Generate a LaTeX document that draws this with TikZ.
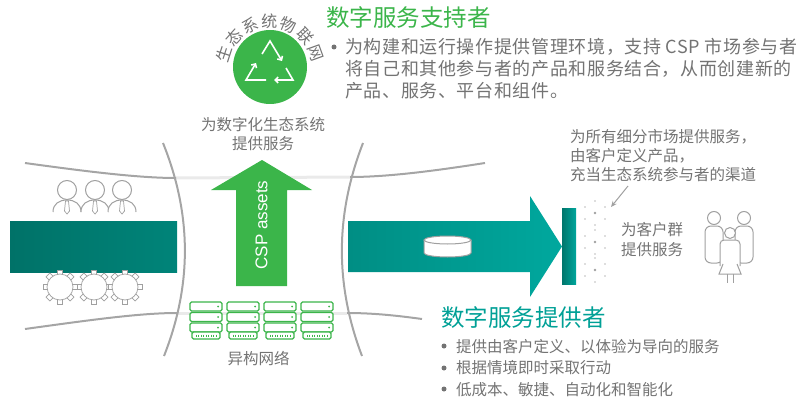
\documentclass[tikz,border=0pt]{standalone}
\usepackage{fontspec}
\setmainfont{Noto Sans CJK SC}
\newfontfamily\arialfont{Liberation Sans}
\usepackage{tikz}
\usetikzlibrary{positioning,arrows.meta}
\definecolor{iot-green}{RGB}{59,181,74}
\definecolor{sp-teal}{RGB}{0,160,150}
\definecolor{text-gray}{RGB}{115,115,115}
\definecolor{line-gray}{RGB}{165,165,165}
\definecolor{faint-gray}{RGB}{234,234,234}
\definecolor{icon-gray}{RGB}{160,160,160}
\tikzset{
    soft-text/.style = {text=text-gray, inner sep=0pt, font=\fontsize{15.5}{19}\selectfont},
    body-text/.style = {text=text-gray, inner sep=0pt, align=left, font=\fontsize{18}{22}\selectfont\addfontfeatures{LetterSpace=3.5}},
    title-text/.style = {inner sep=0pt, font=\fontsize{23.5}{28}\selectfont},
    bullet-dot/.style = {circle, fill=text-gray, inner sep=0pt, minimum size=5pt},
    icon-line/.style = {draw=icon-gray, line width=1pt},
    tube-line/.style = {draw=line-gray, line width=2pt},
    tube-faint/.style = {draw=faint-gray, line width=3pt},
    server-unit/.style = {draw=iot-green, line width=1.2pt, rounded corners=1.5pt, fill=white},
}

\begin{document}
\begin{tikzpicture}[x=1pt, y=-1pt]
\useasboundingbox (0,0) rectangle (799,401);

% tube outline
\draw[tube-faint] (176,178) -- (350,177);
\draw[tube-faint] (177,313) -- (347,313);
\draw[tube-line] (25,163) .. controls (90,172) and (140,178) .. (176,178);
\draw[tube-line] (350,177) .. controls (390,177) and (440,170) .. (485,163);
\draw[tube-line] (25,329) .. controls (90,320) and (140,313) .. (177,313);
\draw[tube-line] (347,313) .. controls (375,313) and (400,316) .. (422,319);
\draw[tube-line] (163,143) .. controls (192,215) and (192,285) .. (164,356);
\draw[tube-line] (363,143) .. controls (335,215) and (335,285) .. (362,356);

% left band and right arrow
\shade[left color={rgb,255:red,0;green,114;blue,104}, right color={rgb,255:red,0;green,132;blue,121}] (10,221) rectangle (177,272);
\shade[left color={rgb,255:red,0;green,142;blue,132}, right color={rgb,255:red,0;green,168;blue,158}]
    (348,221) -- (530,221) -- (530,196) -- (562,246.5) -- (530,297) -- (530,272) -- (348,272) -- cycle;
\shade[left color={rgb,255:red,0;green,118;blue,108}, right color={rgb,255:red,0;green,166;blue,156}] (562,208) rectangle (576,284);

% database
\filldraw[fill=white, draw=icon-gray, line width=1pt] (424,240) -- (424,253) arc[start angle=180, end angle=0, x radius=23.5, y radius=4] -- (471,240);
\filldraw[fill=white, draw=icon-gray, line width=1pt] (447.5,240) ellipse [x radius=23.5, y radius=4];

% people with ties
\foreach \px in {67,95,122}{
    \draw[icon-line, fill=white] (\px-14,212) .. controls (\px-14,204) and (\px-8,200) .. (\px,200) .. controls (\px+8,200) and (\px+14,204) .. (\px+14,212);
    \draw[icon-line, fill=white] (\px,190) circle (9.5);
    \draw[icon-line, line width=0.7pt] (\px-1.5,201) -- (\px+1.5,201) -- (\px+2.5,211) -- (\px,214) -- (\px-2.5,211) -- cycle;
}

% gears
\foreach \gx in {60,94,125}{
    \foreach \a in {0,45,...,315}
        \draw[icon-line, line width=0.7pt, fill=white, shift={(\gx,287)}, rotate=\a] (12,-2.8) -- (17,-2.8) -- (17,2.8) -- (12,2.8);
    \draw[icon-line, line width=0.7pt, fill=white] (\gx,287) circle (13);
}

% CSP assets arrow
\fill[iot-green] (236,286) -- (236,190) -- (211,190) -- (262,160) -- (312,190) -- (287,190) -- (287,286) -- cycle;
\node[rotate=90, text=white, inner sep=0pt, font=\arialfont\fontsize{17}{20}\selectfont] (csp-label) at (261.5,225) {CSP assets};

% servers
\foreach \sx in {190,227,264,301}{
    \foreach \sy in {302,312.5,323}{
        \draw[server-unit] (\sx,\sy) rectangle ++(32,9);
        \fill[iot-green] (\sx+28,\sy+4.5) circle (1);
    }
    \draw[server-unit] (\sx+2,332) rectangle ++(28,7);
    \foreach \k in {0,...,8}
        \draw[iot-green, line width=0.6pt] (\sx+6+\k*2.5,334.5) -- ++(0,2.5);
}

% ecosystem hub
\node[circle, fill=iot-green, minimum size=74pt, inner sep=0pt] (hub) at (270,67) {};
\draw[white, line width=1.6pt, -{Straight Barb[length=3pt, width=6pt]}] (262,54) -- (270,41) -- (282,61);
\draw[white, line width=1.6pt, -{Straight Barb[length=3pt, width=6pt]}] (286,68) -- (293,80) -- (274,80);
\draw[white, line width=1.6pt, -{Straight Barb[length=3pt, width=6pt]}] (266,80) -- (246,80) -- (256,63);
\foreach \ch [count=\i, evaluate=\i as \ang using 162-23.7*(\i-1)] in {生,态,系,统,物,联,网}
    \node[soft-text, font=\fontsize{16}{19}\selectfont, rotate=\ang-90] (ring-\i) at ([shift={(270,69)}] -\ang:48) {\ch};

% labels
\node[soft-text, align=center, anchor=north] (hub-label) at (263,117) {为数字化生态系统\\提供服务};
\node[soft-text, anchor=north] (net-label) at (258.5,351) {异构网络};
\node[soft-text, align=left, anchor=north west] (seg-label) at (570,129) {为所有细分市场提供服务，\\由客户定义产品，\\充当生态系统参与者的渠道};
\node[soft-text, align=left, anchor=north west, font=\fontsize{15.5}{20}\selectfont] (group-label) at (621,222) {为客户群\\提供服务};

% dotted channel
\foreach \cy in {213,242,270}{
    \foreach \dx/\dy in {-10/-6,10/-6,-10/6,10/6,0/-12,0/12}
        \fill[icon-gray!70] (595+\dx,\cy+\dy) circle (0.9);
    \fill[icon-gray] (595,\cy) circle (1.4);
}
\coordinate (seg-end) at (628,186);
\coordinate (dots-tip) at (611,207);
\draw[icon-gray, line width=1pt, -{Stealth[length=6pt, width=5pt]}] (seg-end) -- (dots-tip);

% customer group
\draw[icon-line, fill=white, rounded corners=6pt] (705,263) -- (705,226) -- (723,226) -- (723,263) -- cycle;
\draw[icon-line, fill=white, rounded corners=6pt] (735,263) -- (735,226) -- (753,226) -- (753,263) -- cycle;
\draw[icon-line, fill=white] (714,218) circle (6.5);
\draw[icon-line, fill=white] (744,218) circle (6.5);
\draw[icon-line, fill=white, rounded corners=4pt] (720,266) -- (720,240) -- (740,240) -- (740,266);
\draw[icon-line, fill=white] (723,264) -- (719,274) -- (741,274) -- (737,264);
\draw[icon-line] (727,274) -- (727,283) (733,274) -- (733,283);
\draw[icon-line, fill=white] (730,233) circle (5.5);

% supporter text
\node[title-text, text=iot-green, anchor=base west] (sup-title) at (326,27) {数字服务支持者};
\node[bullet-dot] (sup-dot) at (334,47) {};
\node[body-text, anchor=north west] (sup-text) at (345,38) {为构建和运行操作提供管理环境，支持 CSP 市场参与者\\将自己和其他参与者的产品和服务结合，从而创建新的\\产品、服务、平台和组件。};

% provider text
\node[title-text, text=sp-teal, anchor=base west] (prov-title) at (441,326) {数字服务提供者};
\foreach \by [count=\j] in {346,368,389}
    \node[bullet-dot] (prov-dot-\j) at (444,\by) {};
\node[soft-text, align=left, anchor=north west, font=\fontsize{15.5}{21.5}\selectfont] (prov-text) at (456,339) {提供由客户定义、以体验为导向的服务\\根据情境即时采取行动\\低成本、敏捷、自动化和智能化};
\end{tikzpicture}
\end{document}
